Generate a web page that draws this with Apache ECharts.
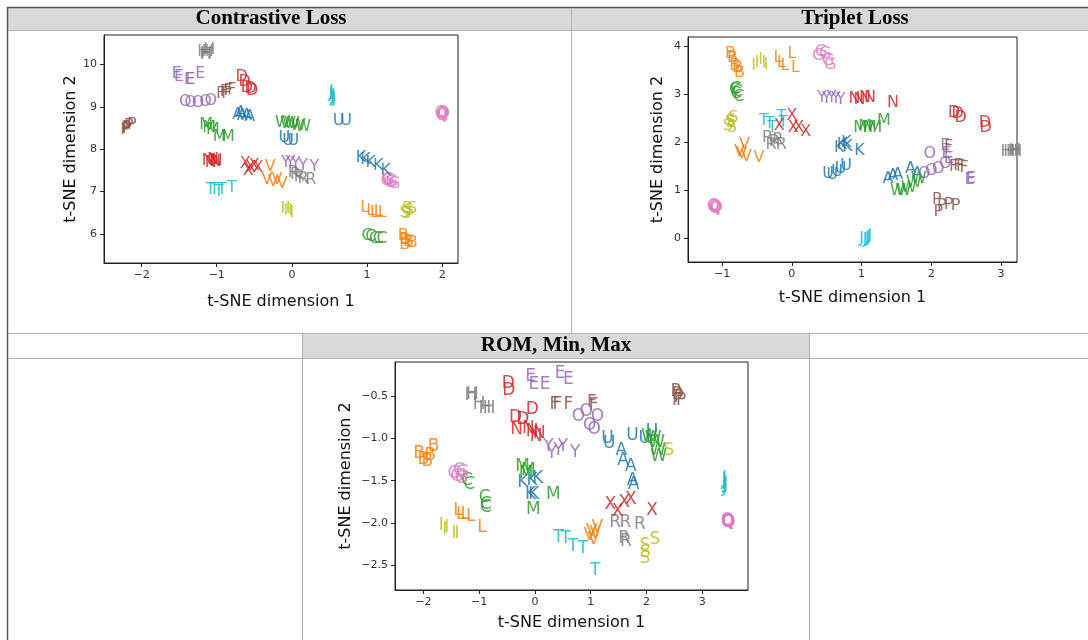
<!DOCTYPE html>
<html>
<head>
<meta charset="utf-8">
<script src="https://cdn.jsdelivr.net/npm/echarts@6/dist/echarts.min.js"></script>
<style>
html,body{margin:0;padding:0;background:#fff;}
#chart{width:1088px;height:640px;}
</style>
</head>
<body>
<div id="chart"></div>
<script>
// ---------- data ----------
const letters = ['A','B','C','D','E','F','G','H','I','J','K','L','M','N','O','P','Q','R','S','T','U','V','W','X','Y'];
const tab10 = ['#1f77b4','#ff7f0e','#2ca02c','#d62728','#9467bd','#8c564b','#e377c2','#7f7f7f','#bcbd22','#17becf'];
const panelTitles = ['Contrastive Loss','Triplet Loss','ROM, Min, Max'];
const xAxisTitle = 't-SNE dimension 1';
const yAxisTitle = 't-SNE dimension 2';

// Contrastive Loss: points per letter (A..Y), [dim1, dim2]
const contrastivePts = [
 [[-0.72,8.82],[-0.66,8.8],[-0.6,8.78],[-0.56,8.76],[-0.68,8.85]],
 [[1.48,5.95],[1.5,5.85],[1.55,5.8],[1.6,5.78],[1.5,5.75]],
 [[1.0,5.95],[1.05,5.92],[1.1,5.88],[1.15,5.88],[1.2,5.87]],
 [[-0.67,9.7],[-0.63,9.6],[-0.55,9.42],[-0.53,9.38],[-0.6,9.45]],
 [[-1.53,9.78],[-1.5,9.72],[-1.37,9.65],[-1.35,9.63],[-1.22,9.78]],
 [[-0.95,9.3],[-0.9,9.35],[-0.85,9.38],[-0.8,9.4],[-0.88,9.32]],
 [[1.26,7.25],[1.3,7.2],[1.33,7.22],[1.36,7.18],[1.28,7.28]],
 [[-1.18,10.3],[-1.14,10.25],[-1.12,10.3],[-1.1,10.35],[-1.15,10.22]],
 [[-0.12,6.6],[-0.08,6.55],[-0.05,6.58],[0.0,6.5],[-0.02,6.55]],
 [[0.52,9.3],[0.54,9.22],[0.55,9.25],[0.53,9.35],[0.56,9.2]],
 [[0.92,7.8],[0.98,7.75],[1.05,7.68],[1.15,7.6],[1.25,7.5]],
 [[0.97,6.62],[1.05,6.55],[1.1,6.5],[1.15,6.52],[1.2,6.5]],
 [[-1.14,8.57],[-1.1,8.5],[-1.05,8.45],[-0.96,8.29],[-0.85,8.29]],
 [[-1.12,7.72],[-1.08,7.68],[-1.05,7.75],[-1.02,7.7],[-1.0,7.72]],
 [[-1.42,9.12],[-1.35,9.1],[-1.25,9.1],[-1.15,9.12],[-1.08,9.15]],
 [[-2.22,8.45],[-2.2,8.5],[-2.17,8.55],[-2.13,8.58],[-2.2,8.48]],
 [[1.98,8.85],[2.0,8.82],[2.01,8.87],[1.99,8.8],[2.02,8.83]],
 [[0.02,7.45],[0.05,7.4],[0.1,7.35],[0.15,7.3],[0.25,7.28]],
 [[1.5,6.5],[1.53,6.58],[1.56,6.55],[1.6,6.6],[1.52,6.48]],
 [[-1.08,7.05],[-1.03,7.05],[-0.97,7.0],[-0.93,7.05],[-0.8,7.08]],
 [[-0.1,8.27],[-0.05,8.2],[0.02,8.2],[0.62,8.68],[0.72,8.68]],
 [[-0.29,7.58],[-0.33,7.27],[-0.2,7.27],[-0.13,7.19],[-0.25,7.22]],
 [[-0.12,8.62],[-0.05,8.6],[0.0,8.6],[0.08,8.55],[0.15,8.52]],
 [[-0.62,7.65],[-0.55,7.55],[-0.5,7.6],[-0.45,7.55],[-0.58,7.5]],
 [[-0.08,7.68],[-0.02,7.68],[0.05,7.65],[0.15,7.6],[0.3,7.58]]
];

// Triplet Loss
const tripletPts = [
 [[1.38,1.25],[1.45,1.3],[1.52,1.32],[1.7,1.45],[1.8,1.35]],
 [[-0.88,3.85],[-0.85,3.75],[-0.82,3.6],[-0.78,3.55],[-0.75,3.45]],
 [[-0.82,3.1],[-0.8,3.0],[-0.78,3.05],[-0.76,2.95],[-0.8,3.12]],
 [[2.33,2.62],[2.38,2.6],[2.42,2.5],[2.77,2.4],[2.78,2.3]],
 [[2.2,1.92],[2.22,1.75],[2.25,1.65],[2.55,1.22],[2.57,1.25]],
 [[2.25,1.9],[2.32,1.48],[2.38,1.5],[2.42,1.48],[2.47,1.46]],
 [[0.38,3.8],[0.42,3.88],[0.48,3.85],[0.52,3.7],[0.55,3.62]],
 [[3.08,1.8],[3.12,1.8],[3.16,1.8],[3.2,1.82],[3.22,1.8]],
 [[-0.55,3.6],[-0.5,3.65],[-0.45,3.72],[-0.4,3.65],[-0.37,3.62]],
 [[1.0,0.0],[1.05,-0.02],[1.1,0.02],[1.08,0.0],[1.12,0.05]],
 [[0.68,1.88],[0.72,1.95],[0.78,1.98],[0.8,1.9],[0.97,1.83]],
 [[-0.2,3.75],[-0.15,3.65],[-0.1,3.6],[0.0,3.85],[0.05,3.55]],
 [[0.98,2.3],[1.05,2.32],[1.12,2.3],[1.2,2.3],[1.32,2.45]],
 [[0.9,2.9],[0.97,2.88],[1.05,2.92],[1.12,2.92],[1.45,2.82]],
 [[1.98,1.77],[1.9,1.35],[2.0,1.4],[2.1,1.45],[2.2,1.55]],
 [[2.08,0.8],[2.1,0.55],[2.15,0.68],[2.25,0.7],[2.35,0.68]],
 [[-1.13,0.65],[-1.1,0.62],[-1.12,0.68],[-1.08,0.63],[-1.1,0.66]],
 [[-0.35,2.1],[-0.3,1.95],[-0.2,2.05],[-0.15,1.95],[-0.25,2.0]],
 [[-0.92,2.35],[-0.88,2.45],[-0.86,2.3],[-0.84,2.5],[-0.88,2.4]],
 [[-0.4,2.45],[-0.32,2.38],[-0.28,2.3],[-0.15,2.52],[-0.12,2.4]],
 [[0.52,1.35],[0.58,1.32],[0.65,1.38],[0.7,1.45],[0.78,1.5]],
 [[-0.75,1.8],[-0.72,1.75],[-0.68,1.95],[-0.65,1.7],[-0.47,1.68]],
 [[1.52,0.98],[1.6,1.0],[1.68,1.05],[1.75,1.15],[1.82,1.25]],
 [[-0.18,2.35],[0.0,2.55],[0.02,2.3],[0.1,2.3],[0.2,2.22]],
 [[0.43,2.92],[0.5,2.9],[0.57,2.92],[0.63,2.9],[0.7,2.88]]
];

// ROM, Min, Max
const romPts = [
 [[1.55,-1.15],[1.58,-1.26],[1.72,-1.33],[1.75,-1.5],[1.77,-1.55]],
 [[-2.08,-1.18],[-2.0,-1.25],[-1.93,-1.28],[-1.88,-1.2],[-1.82,-1.1]],
 [[-1.22,-1.5],[-1.18,-1.55],[-0.9,-1.7],[-0.88,-1.78],[-0.88,-1.82]],
 [[-0.48,-0.36],[-0.47,-0.44],[-0.35,-0.75],[-0.22,-0.78],[-0.05,-0.66]],
 [[-0.08,-0.27],[-0.02,-0.37],[0.18,-0.37],[0.45,-0.24],[0.6,-0.31]],
 [[0.35,-0.6],[0.4,-0.6],[0.6,-0.6],[1.02,-0.58],[1.05,-0.62]],
 [[-1.45,-1.42],[-1.4,-1.45],[-1.35,-1.38],[-1.32,-1.48],[-1.3,-1.4]],
 [[-1.15,-0.5],[-1.12,-0.48],[-1.0,-0.6],[-0.9,-0.65],[-0.82,-0.65]],
 [[-1.68,-2.03],[-1.62,-2.08],[-1.58,-2.05],[-1.45,-2.12],[-1.4,-2.12]],
 [[3.4,-1.48],[3.41,-1.53],[3.39,-1.5],[3.42,-1.55],[3.4,-1.58]],
 [[-0.22,-1.52],[-0.05,-1.5],[0.05,-1.47],[-0.08,-1.66],[-0.02,-1.66]],
 [[-1.38,-1.85],[-1.33,-1.9],[-1.25,-1.9],[-1.15,-1.92],[-0.95,-2.05]],
 [[-0.22,-1.33],[-0.16,-1.42],[-0.12,-1.38],[0.33,-1.66],[-0.03,-1.84]],
 [[-0.33,-0.9],[-0.12,-0.88],[-0.05,-0.92],[0.02,-0.98],[0.08,-0.95]],
 [[0.78,-0.74],[0.92,-0.68],[1.12,-0.74],[0.98,-0.85],[1.06,-0.9]],
 [[2.52,-0.45],[2.55,-0.48],[2.58,-0.52],[2.55,-0.56],[2.62,-0.55]],
 [[3.45,-1.97],[3.47,-2.0],[3.46,-1.98],[3.48,-1.99],[3.45,-2.0]],
 [[1.44,-2.0],[1.62,-1.99],[1.88,-2.02],[1.6,-2.18],[1.63,-2.22]],
 [[2.4,-1.15],[1.97,-2.27],[1.98,-2.35],[1.97,-2.42],[2.15,-2.2]],
 [[0.42,-2.17],[0.55,-2.18],[0.68,-2.28],[0.86,-2.3],[1.08,-2.56]],
 [[1.3,-1.0],[1.33,-1.06],[1.75,-0.97],[1.97,-1.0],[2.1,-0.92]],
 [[0.98,-2.15],[1.02,-2.1],[1.08,-2.12],[1.12,-2.05],[1.05,-2.2]],
 [[2.05,-0.98],[2.12,-1.0],[2.18,-1.05],[2.2,-1.15],[2.22,-1.22]],
 [[1.35,-1.78],[1.48,-1.86],[1.6,-1.76],[1.72,-1.72],[2.1,-1.85]],
 [[0.24,-1.1],[0.3,-1.18],[0.42,-1.15],[0.5,-1.1],[0.72,-1.17]]
];

// tick values
const contrastiveXTicks = [-2,-1,0,1,2];
const contrastiveYTicks = [6,7,8,9,10];
const tripletXTicks = [-1,0,1,2,3];
const tripletYTicks = [0,1,2,3,4];
const romXTicks = [-2,-1,0,1,2,3];
const romYTicks = [-2.5,-2.0,-1.5,-1.0,-0.5];

// ---------- layout / style ----------
const panels = [
  {pts: contrastivePts, xt: contrastiveXTicks, yt: contrastiveYTicks, dec: 0,
   grid:{left:104, top:35, width:354, height:228}, xr:[-2.5,2.21], yr:[5.31,10.70],
   xGap:31, yGap:22, fs:16},
  {pts: tripletPts, xt: tripletXTicks, yt: tripletYTicks, dec: 0,
   grid:{left:688, top:37, width:329, height:225}, xr:[-1.49,3.23], yr:[-0.49,4.19],
   xGap:28, yGap:22, fs:16},
  {pts: romPts, xt: romXTicks, yt: romYTicks, dec: 1,
   grid:{left:395, top:362, width:353, height:228}, xr:[-2.51,3.82], yr:[-2.79,-0.1],
   xGap:25, yGap:41, fs:17}
];

function fmt(dec){
  return function(v){
    const s = Math.abs(v).toFixed(dec);
    return (v < -1e-9 ? '\u2212' : '') + s;
  };
}

const grids = [], xAxes = [], yAxes = [], series = [];
panels.forEach((p, i) => {
  grids.push(Object.assign({show:true, borderColor:'#222', borderWidth:1, backgroundColor:'#fff'}, p.grid));
  const axisCommon = {
    type:'value', gridIndex:i, splitLine:{show:false},
    axisLine:{show:true, onZero:false, lineStyle:{color:'#222', width:1}},
    axisTick:{show:true, inside:false, length:4, customValues:null, lineStyle:{color:'#222'}},
    nameLocation:'middle',
    nameTextStyle:{fontFamily:'DejaVu Sans', fontSize:16, color:'#111'}
  };
  xAxes.push(Object.assign({}, axisCommon, {
    min:p.xr[0], max:p.xr[1], name:xAxisTitle, nameGap:p.xGap,
    axisTick:Object.assign({}, axisCommon.axisTick, {customValues:p.xt}),
    axisLabel:{customValues:p.xt, formatter:fmt(0), fontFamily:'DejaVu Sans', fontSize:11, color:'#333', margin:7}
  }));
  yAxes.push(Object.assign({}, axisCommon, {
    min:p.yr[0], max:p.yr[1], name:yAxisTitle, nameGap:p.yGap,
    axisTick:Object.assign({}, axisCommon.axisTick, {customValues:p.yt}),
    axisLabel:{customValues:p.yt, formatter:fmt(p.dec), fontFamily:'DejaVu Sans', fontSize:11, color:'#333', margin:7}
  }));
  const data = [];
  p.pts.forEach((arr, li) => {
    const col = tab10[li % 10];
    arr.forEach(pt => {
      data.push({value:pt, label:{formatter:letters[li], color:col}});
    });
  });
  series.push({
    type:'scatter', xAxisIndex:i, yAxisIndex:i, data:data,
    symbol:'circle', symbolSize:2, itemStyle:{opacity:0}, silent:true,
    label:{show:true, position:'inside', fontFamily:'DejaVu Sans', fontSize:p.fs, opacity:0.85},
    emphasis:{disabled:true}
  });
});

const lineGray = '#b4b4b4', lineDark = '#555';
const headerFont = 'bold 21px "Liberation Serif", "Times New Roman", serif';
const graphic = [
  {type:'rect', shape:{x:8, y:8, width:1080, height:22}, style:{fill:'#d9d9d9'}, z:-10},
  {type:'rect', shape:{x:302, y:334, width:507, height:24}, style:{fill:'#d9d9d9'}, z:-10},
  {type:'line', shape:{x1:7, y1:7.5, x2:1088, y2:7.5}, style:{stroke:lineDark, lineWidth:1.5}, z:-5},
  {type:'line', shape:{x1:7.5, y1:7, x2:7.5, y2:640}, style:{stroke:lineDark, lineWidth:1.5}, z:-5},
  {type:'line', shape:{x1:8, y1:30.5, x2:1088, y2:30.5}, style:{stroke:lineGray, lineWidth:1}, z:-5},
  {type:'line', shape:{x1:571.5, y1:8, x2:571.5, y2:334}, style:{stroke:lineGray, lineWidth:1}, z:-5},
  {type:'line', shape:{x1:8, y1:333.5, x2:1088, y2:333.5}, style:{stroke:lineGray, lineWidth:1}, z:-5},
  {type:'line', shape:{x1:8, y1:358.5, x2:1088, y2:358.5}, style:{stroke:lineGray, lineWidth:1}, z:-5},
  {type:'line', shape:{x1:302.5, y1:334, x2:302.5, y2:640}, style:{stroke:lineGray, lineWidth:1}, z:-5},
  {type:'line', shape:{x1:809.5, y1:334, x2:809.5, y2:640}, style:{stroke:lineGray, lineWidth:1}, z:-5},
  {type:'text', x:271, y:19, style:{text:panelTitles[0], font:headerFont, fill:'#000', textAlign:'center', textVerticalAlign:'middle'}},
  {type:'text', x:855, y:19, style:{text:panelTitles[1], font:headerFont, fill:'#000', textAlign:'center', textVerticalAlign:'middle'}},
  {type:'text', x:556, y:346, style:{text:panelTitles[2], font:headerFont, fill:'#000', textAlign:'center', textVerticalAlign:'middle'}}
];

const chart = echarts.init(document.getElementById('chart'), null, {renderer:'canvas'});
chart.setOption({
  backgroundColor:'#fff',
  animation:false,
  grid:grids, xAxis:xAxes, yAxis:yAxes, series:series, graphic:graphic
});
</script>
</body>
</html>
